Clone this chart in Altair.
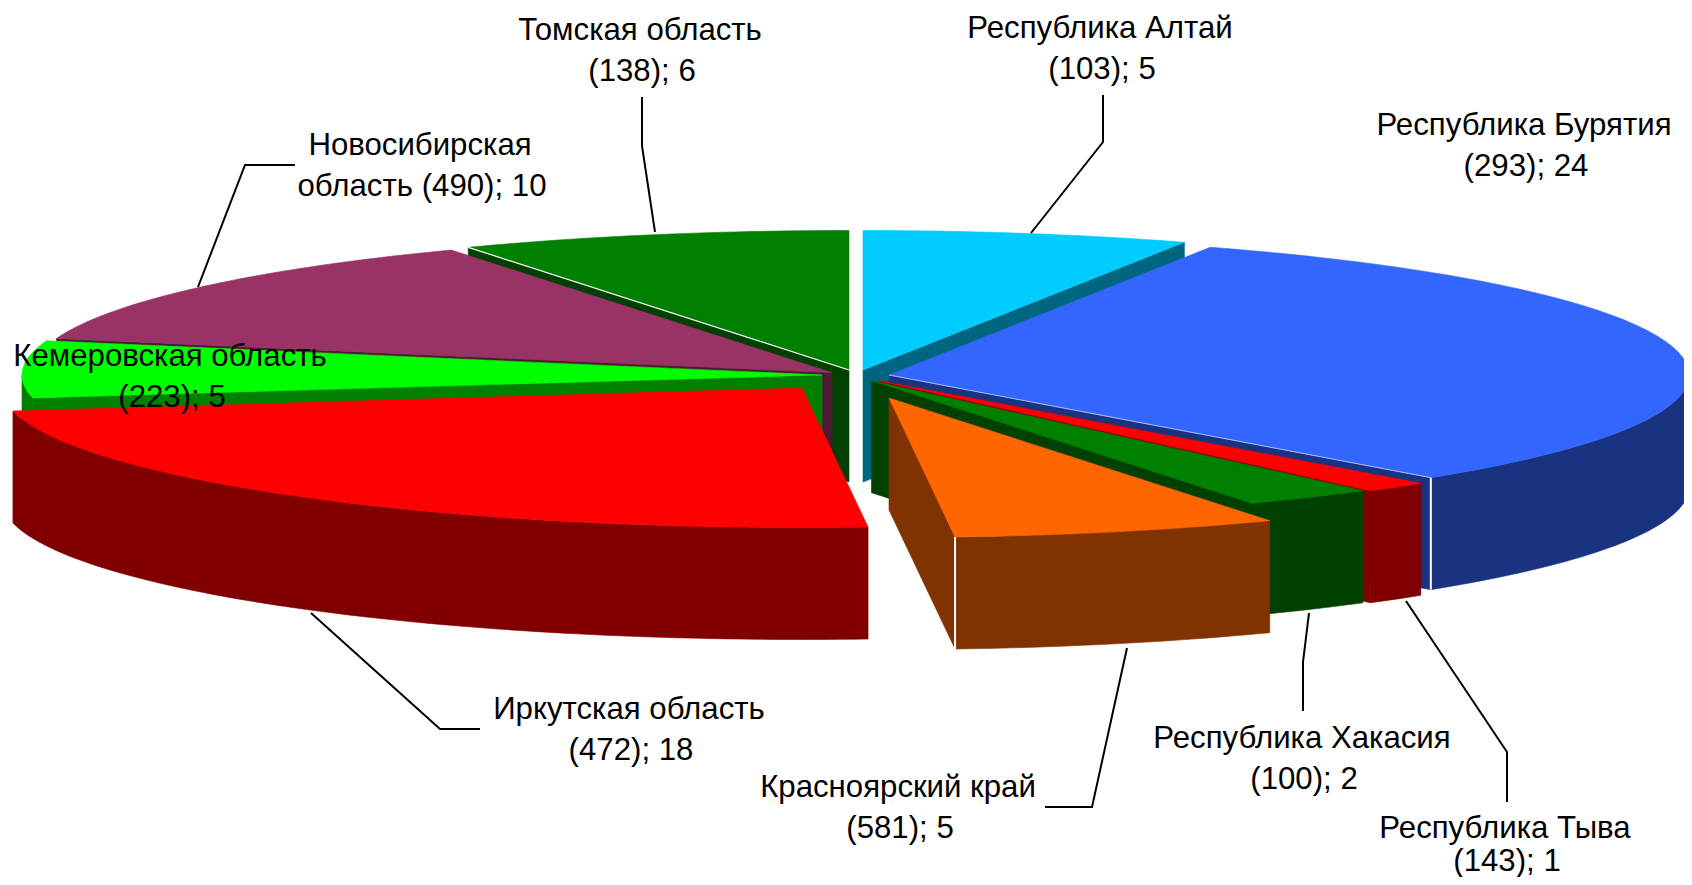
import math
import altair as alt

# --- values ---
names = ["Республика Алтай", "Республика Бурятия", "Республика Тыва", "Республика Хакасия",
         "Красноярский край", "Иркутская область", "Кемеровская область",
         "Новосибирская область", "Томская область"]
counts = [103, 293, 143, 100, 581, 472, 223, 490, 138]
shares = [5, 24, 1, 2, 5, 18, 5, 10, 6]

# --- styles ---
top_colors = ["#00CCFF", "#3366FF", "#FF0000", "#008000", "#FF6600", "#FF0000", "#00FF00", "#993366", "#008000"]
wall_colors = ["#006680", "#1A3380", "#800000", "#004000", "#803300", "#800000", "#008000", "#4D1933", "#004000"]

# --- layout of the exploded, tilted pie (page pixels) ---
RX, RY, DEPTH = 800, 139.5, 112
apex_x = [863, 889, 879, 871.5, 889, 802, 822, 832, 849]
apex_y = [370, 375, 380.7, 380.7, 398, 388, 375, 372.7, 370]
paint_order = [0, 8, 7, 6, 1, 2, 3, 4, 5]

label_lines = [
    ("Республика Алтай", "(103); 5"), ("Республика Бурятия", "(293); 24"),
    ("Республика Тыва", "(143); 1"), ("Республика Хакасия", "(100); 2"),
    ("Красноярский край", "(581); 5"), ("Иркутская область", "(472); 18"),
    ("Кемеровская область", "(223); 5"), ("Новосибирская", "область (490); 10"),
    ("Томская область", "(138); 6"),
]
label_x = [1100, 1524, 1505, 1302, 898, 629, 170, 420, 640]
label_y = [29, 126, 829, 739, 788, 710, 357, 146, 31]
line_gap = [41, 41, 33, 41, 41, 41, 41, 41, 41]

leaders = [
    [(1103, 95), (1103, 142), (1031, 233)],
    [],
    [(1507, 802), (1507, 752), (1406, 601)],
    [(1303, 711), (1303, 662), (1309, 613)],
    [(1045, 807), (1092, 807), (1127, 648)],
    [(480, 729), (440, 729), (311, 613)],
    [],
    [(295, 165), (245, 165), (198, 287)],
    [(642, 97), (642, 146), (655, 232)],
]

total = sum(shares)
edges = [0.0]
for s in shares:
    edges.append(edges[-1] + s / total * 360)


def rim(i, deg, drop=0.0):
    t = math.radians(deg)
    return [apex_x[i] + RX * math.sin(t), apex_y[i] - RY * math.cos(t) + drop]


def arc(i, d1, d2, drop=0.0, step=1.0):
    n = max(2, int(abs(d2 - d1) / step) + 1)
    return [rim(i, d1 + (d2 - d1) * k / (n - 1), drop) for k in range(n)]


def poly(points, fill):
    ring = list(points) + [points[0]]
    return {"type": "Feature",
            "geometry": {"type": "Polygon", "coordinates": [ring]},
            "properties": {"fill": fill, "stroke": fill, "sw": 0.6}}


def seam(points, width, color="#FFFFFF"):
    return {"type": "Feature",
            "geometry": {"type": "LineString", "coordinates": points},
            "properties": {"fill": "none", "stroke": color, "sw": width}}


features = []
for i in paint_order:
    a, b = edges[i], edges[i + 1]
    top = [apex_x[i], apex_y[i]]
    low = [apex_x[i], apex_y[i] + DEPTH]
    wall = wall_colors[i]
    # radial walls that face the viewer
    if math.sin(math.radians(a)) < -1e-6:
        features.append(poly([top, rim(i, a), rim(i, a, DEPTH), low], wall))
    if math.sin(math.radians(b)) > 1e-6:
        features.append(poly([top, rim(i, b), rim(i, b, DEPTH), low], wall))
    # outer wall, front half only
    f1, f2 = max(a, 90), min(b, 270)
    if f2 > f1:
        features.append(poly(arc(i, f1, f2) + arc(i, f2, f1, DEPTH), wall))
    # top face
    features.append(poly([top] + arc(i, a, b), top_colors[i]))
    # light seams of the original drawing
    if i == 1:
        features.append(seam([rim(i, b), rim(i, b, DEPTH)], 2))
        features.append(seam([top, rim(i, b)], 0.8, "#C8D4FF"))
    if i == 4:
        features.append(seam([rim(i, b), rim(i, b, DEPTH)], 2))
    if i == 8:
        features.append(seam([top, rim(i, a)], 1.2))

leader_features = [
    {"type": "Feature", "geometry": {"type": "LineString", "coordinates": [list(p) for p in pts]}, "properties": {}}
    for pts in leaders if pts
]

text_rows = []
for i, (l1, l2) in enumerate(label_lines):
    text_rows.append({"t": l1, "lon": label_x[i], "lat": label_y[i]})
    text_rows.append({"t": l2, "lon": label_x[i] + 2, "lat": label_y[i] + line_gap[i]})

projection = alt.Projection(type="identity", scale=1, translate=[-8, -8])

shapes = alt.Chart(alt.Data(values=features)).mark_geoshape().encode(
    fill=alt.Fill("properties.fill:N", scale=None, legend=None),
    stroke=alt.Stroke("properties.stroke:N", scale=None, legend=None),
    strokeWidth=alt.StrokeWidth("properties.sw:Q", scale=None, legend=None),
).project(**projection.to_dict())

lines = alt.Chart(alt.Data(values=leader_features)).mark_geoshape(
    filled=False, stroke="#000000", strokeWidth=2
).project(**projection.to_dict())

texts = alt.Chart(alt.Data(values=text_rows)).mark_text(
    font="Liberation Sans", fontSize=31.2, color="#000000", align="center", baseline="middle"
).encode(
    longitude="lon:Q", latitude="lat:Q", text="t:N"
).project(**projection.to_dict())

chart = alt.layer(shapes, lines, texts).properties(
    width=1676, height=869, padding=0, background="#FFFFFF",
    autosize=alt.AutoSizeParams(type="none"),
).configure_view(stroke=None)

chart.save("out.html", embed_options={"renderer": "svg", "actions": False})
